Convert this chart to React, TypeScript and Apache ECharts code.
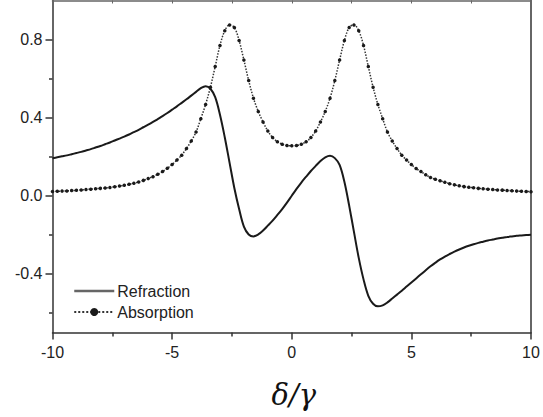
import React, { useEffect, useRef } from "react";
import * as echarts from "echarts";

// Detuning grid δ/γ from -10 to 10, step 0.2
const STEP = 0.2;
const detuning: number[] = Array.from({ length: 101 }, (_, i) => +(-10 + i * STEP).toFixed(1));

const refraction: number[] = [
  0.192, 0.197, 0.202, 0.207, 0.213, 0.219, 0.225, 0.232, 0.239, 0.247,
  0.255, 0.264, 0.273, 0.283, 0.293, 0.303, 0.314, 0.326, 0.338, 0.351,
  0.364, 0.378, 0.393, 0.408, 0.424, 0.441, 0.458, 0.476, 0.494, 0.513,
  0.532, 0.551, 0.561, 0.548, 0.505, 0.415, 0.300, 0.170, 0.040, -0.068,
  -0.158, -0.198, -0.208, -0.198, -0.178, -0.153, -0.127, -0.098, -0.068, -0.035,
  0.000,
  0.035, 0.068, 0.098, 0.127, 0.153, 0.178, 0.197, 0.205, 0.193, 0.158,
  0.072, -0.050, -0.185, -0.318, -0.428, -0.512, -0.553, -0.566, -0.561, -0.546,
  -0.526, -0.506, -0.486, -0.465, -0.444, -0.423, -0.402, -0.381, -0.361, -0.343,
  -0.326, -0.311, -0.298, -0.286, -0.275, -0.265, -0.256, -0.248, -0.241, -0.235,
  -0.229, -0.224, -0.219, -0.215, -0.211, -0.208, -0.205, -0.203, -0.201, -0.199,
];

const absorption: number[] = [
  0.022, 0.023, 0.024, 0.025, 0.027, 0.028, 0.030, 0.032, 0.034, 0.036,
  0.038, 0.040, 0.043, 0.046, 0.050, 0.054, 0.059, 0.064, 0.071, 0.079,
  0.088, 0.098, 0.110, 0.124, 0.141, 0.160, 0.183, 0.208, 0.242, 0.281,
  0.327, 0.395, 0.468, 0.556, 0.662, 0.770, 0.845, 0.875, 0.862, 0.795,
  0.695, 0.590, 0.500, 0.432, 0.378, 0.332, 0.298, 0.277, 0.264, 0.258,
  0.256,
  0.258, 0.264, 0.277, 0.298, 0.332, 0.378, 0.432, 0.500, 0.590, 0.695,
  0.795, 0.862, 0.875, 0.845, 0.770, 0.662, 0.556, 0.468, 0.395, 0.327,
  0.281, 0.242, 0.208, 0.183, 0.160, 0.140, 0.124, 0.108, 0.094, 0.085,
  0.077, 0.069, 0.062, 0.056, 0.051, 0.047, 0.044, 0.041, 0.038, 0.036,
  0.034, 0.032, 0.030, 0.029, 0.027, 0.026, 0.024, 0.023, 0.022, 0.021,
];

const yMajorTicks: number[] = [-0.4, 0.0, 0.4, 0.8];
const yMinorTicks: number[] = [-0.6, -0.2, 0.2, 0.6];

const FONT = "'Liberation Sans', Arial, Helvetica, sans-serif";
const INK = "#1a1a1a";

export default function App() {
  const ref = useRef<HTMLDivElement>(null);

  useEffect(() => {
    if (!ref.current) return;
    const chart = echarts.init(ref.current, undefined, { renderer: "svg" });

    const refrData = detuning.map((x, i) => [x, refraction[i]]);
    const absData = detuning.map((x, i) => [x, absorption[i]]);

    const axisLine = { show: true, onZero: false, lineStyle: { color: "#333", width: 1.5 } };

    chart.setOption({
      animation: false,
      backgroundColor: "#fff",
      grid: { left: 52.5, right: 12, top: 0.5, bottom: 84.5, containLabel: false },
      legend: {
        orient: "vertical",
        left: 68,
        top: 278,
        itemWidth: 40,
        itemHeight: 10,
        itemGap: 5,
        textStyle: { fontFamily: FONT, fontSize: 16, color: "#222", padding: [0, 0, 0, -2] },
        data: [
          { name: "Refraction", lineStyle: { color: "#666", width: 2.5 } },
          { name: "Absorption" },
        ],
      },
      xAxis: [
        {
          type: "value",
          position: "bottom",
          min: -10,
          max: 10,
          interval: 5,
          axisLine,
          axisTick: { show: true, inside: false, length: 7, lineStyle: { color: "#333", width: 1.5 } },
          minorTick: { show: true, splitNumber: 2, length: 4, lineStyle: { color: "#333", width: 1.5 } },
          splitLine: { show: false },
          axisLabel: { fontFamily: FONT, fontSize: 16, color: "#222", margin: 12 },
          name: "δ/γ",
          nameLocation: "middle",
          nameGap: 48,
          nameTextStyle: {
            fontFamily: "'DejaVu Serif', 'Liberation Serif', serif",
            fontStyle: "italic",
            fontSize: 29,
            color: "#111",
            padding: [0, 0, 0, 4],
          },
        },
        {
          type: "value",
          position: "top",
          min: -10,
          max: 10,
          interval: 2.5,
          axisLine: { show: true, onZero: false, lineStyle: { color: "#666", width: 1.5 } },
          axisTick: { show: true, inside: true, length: 3, lineStyle: { color: "#666", width: 1 } },
          axisLabel: { show: false },
          splitLine: { show: false },
        },
      ],
      yAxis: [
        {
          type: "value",
          position: "left",
          min: -0.7,
          max: 1.0,
          axisLine,
          axisTick: {
            show: true,
            length: 7,
            customValues: yMajorTicks,
            lineStyle: { color: "#333", width: 1.5 },
          },
          axisLabel: {
            customValues: yMajorTicks,
            fontFamily: FONT,
            fontSize: 16,
            color: "#222",
            margin: 10,
            formatter: (v: number) => v.toFixed(1),
          },
          splitLine: { show: false },
        },
        {
          type: "value",
          position: "left",
          min: -0.7,
          max: 1.0,
          axisLine: { show: false, onZero: false },
          axisTick: {
            show: true,
            length: 3.5,
            customValues: yMinorTicks,
            lineStyle: { color: "#333", width: 1.5 },
          },
          axisLabel: { show: false },
          splitLine: { show: false },
        },
        {
          type: "value",
          position: "right",
          min: -0.7,
          max: 1.0,
          axisLine,
          axisTick: { show: false },
          axisLabel: { show: false },
          splitLine: { show: false },
        },
      ],
      series: [
        {
          name: "Refraction",
          type: "line",
          xAxisIndex: 0,
          yAxisIndex: 0,
          data: refrData,
          smooth: 0.35,
          symbol: "none",
          lineStyle: { color: INK, width: 2 },
          // keeps the legend swatch a plain line
          itemStyle: { color: "rgba(0,0,0,0)" },
          z: 3,
        },
        {
          name: "Absorption",
          type: "line",
          xAxisIndex: 0,
          yAxisIndex: 0,
          data: absData,
          smooth: 0.35,
          symbol: "circle",
          symbolSize: 3.5,
          showSymbol: true,
          lineStyle: { color: "#333", width: 1.5, type: "dotted" },
          itemStyle: { color: INK, borderWidth: 0 },
          z: 2,
        },
      ],
    });

    return () => chart.dispose();
  }, []);

  return (
    <div
      ref={ref}
      style={{ position: "absolute", left: 0, top: 0, width: 543, height: 417, background: "#fff" }}
    />
  );
}
